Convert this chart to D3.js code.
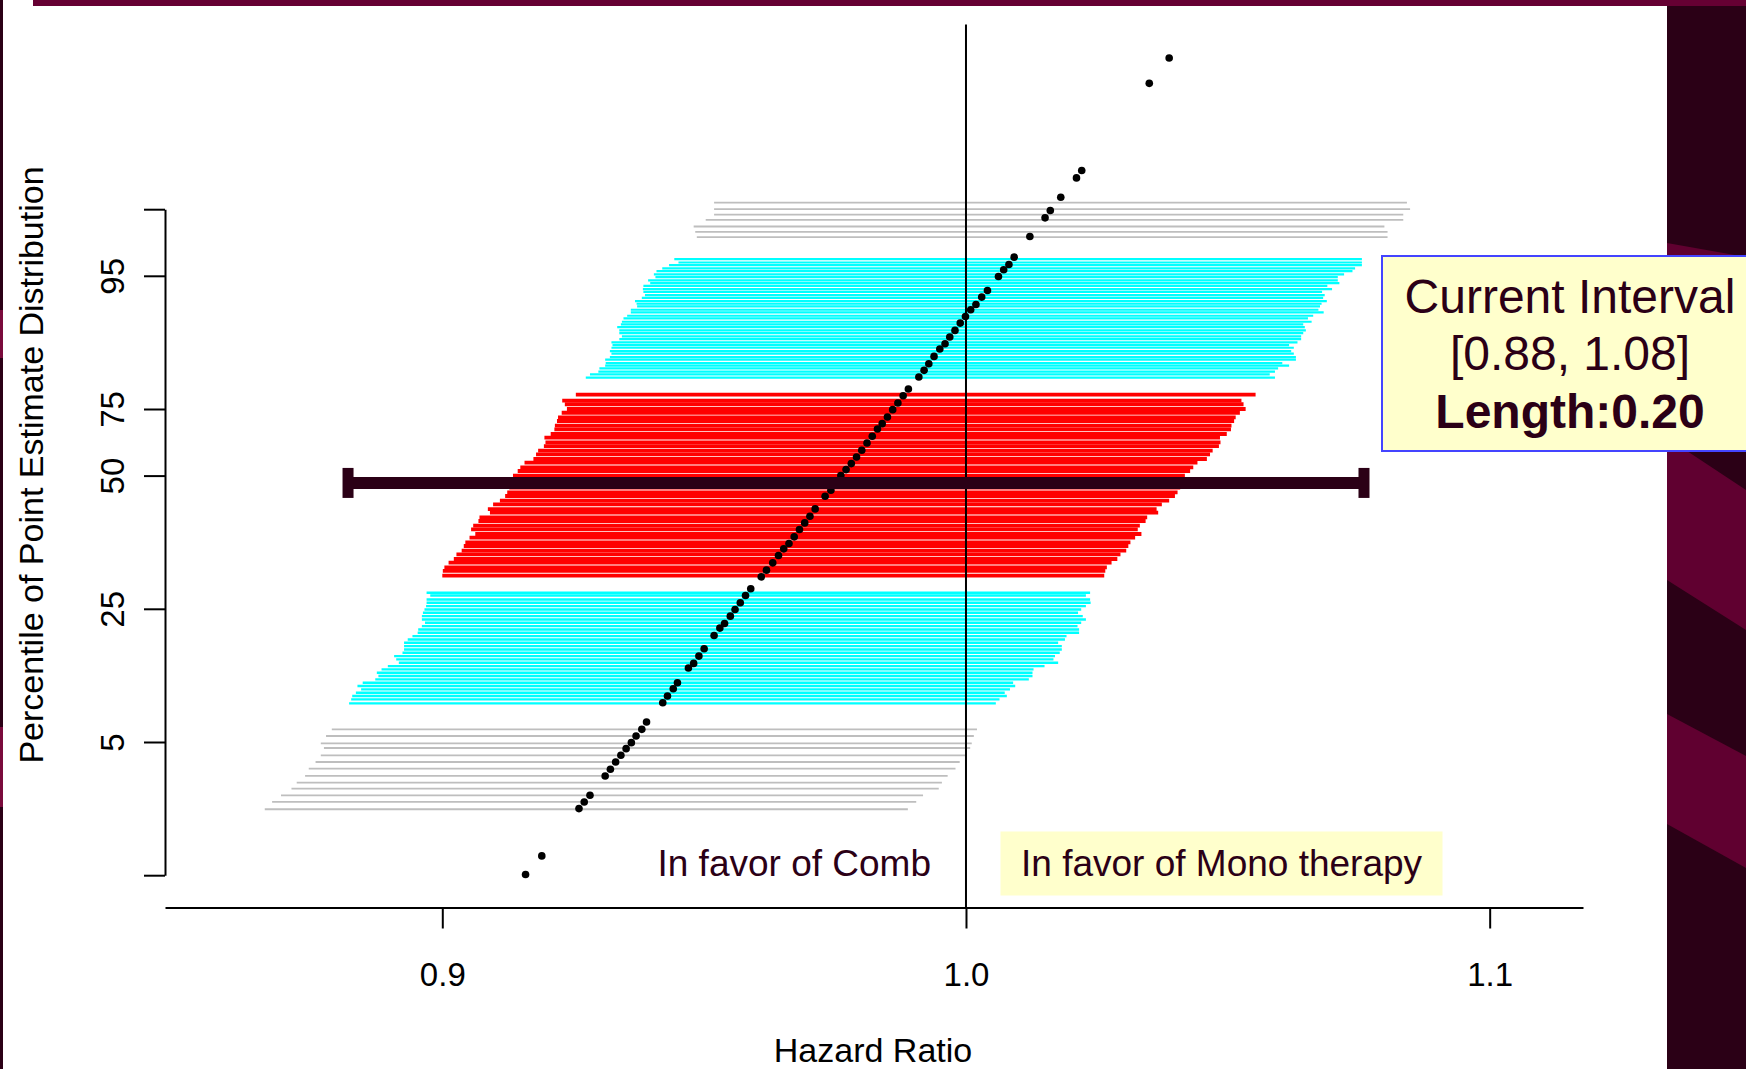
<!DOCTYPE html>
<html>
<head>
<meta charset="utf-8">
<script src="https://cdn.jsdelivr.net/npm/d3@7"></script>
<style>
  body { margin: 0; background: #fff; }
  svg { display: block; }
  text { font-family: "Liberation Sans", Arial, Helvetica, sans-serif; }
</style>
</head>
<body>
<div id="canvas"></div>
<script>
// y axis: positions of the ticks and what is written on them
var yTickPos = [0, 20, 40, 60, 70, 90, 100];
var yTickLab = ["", "5", "25", "50", "75", "95", ""];
var xTicks = [0.9, 1.0, 1.1];

// grey lines, lower tail
var greyLowY  = [21.9, 20.9, 19.8, 19.1, 18.0, 17.0, 16.0, 14.9, 13.9, 13.0, 12.0, 11.0, 9.9];
var greyLowLo = [0.8789, 0.8778, 0.8768, 0.8774, 0.8768, 0.8758, 0.8745, 0.8738, 0.8722, 0.8712, 0.8692, 0.8675, 0.8661];
var greyLowHi = [1.0021, 1.0015, 1.0011, 1.0008, 0.9999, 0.9988, 0.9980, 0.9965, 0.9954, 0.9948, 0.9918, 0.9905, 0.9889];

// cyan lines, 5th to 25th percentile
var cyanLowY  = [42.4, 42.0, 41.4, 40.9, 40.4, 39.9, 39.4, 38.9, 38.4, 37.9, 37.4, 36.9, 36.4, 35.9, 35.4, 34.9, 34.4,
                 33.9, 33.4, 32.9, 32.4, 31.9, 31.4, 30.9, 30.4, 29.9, 29.4, 28.9, 28.4, 27.9, 27.4, 26.9, 26.4, 25.8];
var cyanLowLo = [0.8970, 0.8977, 0.8970, 0.8970, 0.8969, 0.8966, 0.8963, 0.8961, 0.8961, 0.8967, 0.8961, 0.8954, 0.8953,
                 0.8943, 0.8934, 0.8927, 0.8927, 0.8927, 0.8924, 0.8908, 0.8912, 0.8917, 0.8896, 0.8884, 0.8875, 0.8878,
                 0.8872, 0.8848, 0.8838, 0.8845, 0.8835, 0.8828, 0.8826, 0.8822];
var cyanLowHi = [1.0237, 1.0229, 1.0237, 1.0238, 1.0229, 1.0220, 1.0214, 1.0223, 1.0229, 1.0220, 1.0213, 1.0216, 1.0216,
                 1.0192, 1.0189, 1.0176, 1.0183, 1.0183, 1.0179, 1.0170, 1.0167, 1.0176, 1.0150, 1.0129, 1.0127, 1.0127,
                 1.0120, 1.0090, 1.0094, 1.0084, 1.0074, 1.0078, 1.0064, 1.0057];

// red lines, 25th to 75th percentile
var redY  = [72.16, 71.26, 70.71, 70.00, 69.44, 68.75, 68.20, 67.51, 66.95, 66.25, 65.69, 65.00, 64.44, 63.75, 63.20,
             62.49, 61.94, 61.25, 60.69, 60.00, 59.44, 58.74, 58.18, 57.49, 56.94, 56.25, 55.69, 54.98, 54.43, 53.74,
             53.18, 52.49, 51.94, 51.23, 50.68, 49.98, 49.43, 48.74, 48.18, 47.48, 46.92, 46.23, 45.68, 44.97];
var redLo = [0.9255, 0.9229, 0.9234, 0.9238, 0.9228, 0.9221, 0.9219, 0.9215, 0.9214, 0.9207, 0.9195, 0.9197, 0.9194,
             0.9183, 0.9179, 0.9174, 0.9157, 0.9149, 0.9144, 0.9135, 0.9130, 0.9130, 0.9128, 0.9124, 0.9120, 0.9110,
             0.9097, 0.9087, 0.9091, 0.9071, 0.9069, 0.9059, 0.9055, 0.9063, 0.9052, 0.9044, 0.9041, 0.9037, 0.9027,
             0.9022, 0.9012, 0.9004, 0.9001, 0.9000];
var redHi = [1.0553, 1.0526, 1.0530, 1.0534, 1.0523, 1.0515, 1.0512, 1.0507, 1.0506, 1.0498, 1.0485, 1.0486, 1.0483,
             1.0471, 1.0466, 1.0460, 1.0442, 1.0434, 1.0428, 1.0418, 1.0412, 1.0411, 1.0409, 1.0404, 1.0399, 1.0388,
             1.0374, 1.0364, 1.0367, 1.0346, 1.0343, 1.0332, 1.0328, 1.0335, 1.0323, 1.0314, 1.0310, 1.0306, 1.0295,
             1.0289, 1.0278, 1.0269, 1.0266, 1.0264];

// cyan lines, 75th to 95th percentile
var cyanUpY  = [92.5, 92.0, 91.6, 91.1, 90.7, 90.2, 89.8, 89.3, 88.9, 88.5, 88.0, 87.6, 87.1, 86.7, 86.2, 85.8, 85.4,
                84.9, 84.5, 84.0, 83.6, 83.1, 82.7, 82.3, 81.8, 81.4, 80.9, 80.5, 80.0, 79.6, 79.2, 78.7, 78.3, 77.8,
                77.4, 76.9, 76.5, 76.1, 75.6, 75.2, 74.7];
var cyanUpLo = [0.9443, 0.9451, 0.9433, 0.9420, 0.9409, 0.9404, 0.9407, 0.9393, 0.9397, 0.9384, 0.9383, 0.9384, 0.9387,
                0.9381, 0.9368, 0.9371, 0.9372, 0.9360, 0.9360, 0.9353, 0.9346, 0.9343, 0.9341, 0.9334, 0.9338, 0.9338,
                0.9343, 0.9338, 0.9323, 0.9325, 0.9323, 0.9320, 0.9323, 0.9320, 0.9311, 0.9312, 0.9311, 0.9300, 0.9298,
                0.9282, 0.9274];
var cyanUpHi = [1.0756, 1.0756, 1.0756, 1.0743, 1.0738, 1.0722, 1.0710, 1.0710, 1.0713, 1.0690, 1.0699, 1.0680, 1.0685,
                1.0682, 1.0689, 1.0679, 1.0676, 1.0673, 1.0683, 1.0663, 1.0653, 1.0660, 1.0644, 1.0647, 1.0649, 1.0644,
                1.0640, 1.0640, 1.0633, 1.0617, 1.0626, 1.0621, 1.0626, 1.0630, 1.0630, 1.0604, 1.0617, 1.0596, 1.0590,
                1.0580, 1.0590];

// grey lines, upper tail
var greyUpY  = [101.0, 100.0, 99.2, 98.4, 97.4, 96.6, 95.8];
var greyUpLo = [0.9519, 0.9519, 0.9519, 0.9503, 0.9480, 0.9483, 0.9486];
var greyUpHi = [1.0842, 1.0848, 1.0835, 1.0835, 1.0799, 1.0805, 1.0805];

// point estimates
var dotX = [0.9159, 0.9190, 0.9261, 0.9271, 0.9282, 0.9311, 0.9321, 0.9331, 0.9341, 0.9351, 0.9361, 0.9370, 0.9381,
            0.9390, 0.9421, 0.9430, 0.9441, 0.9449, 0.9470, 0.9480, 0.9490, 0.9500, 0.9519, 0.9530, 0.9539, 0.9550,
            0.9559, 0.9569, 0.9579, 0.9589, 0.9609, 0.9619, 0.9631, 0.9642, 0.9652, 0.9662, 0.9672, 0.9682, 0.9692,
            0.9702, 0.9712, 0.9731, 0.9742, 0.9761, 0.9771, 0.9781, 0.9791, 0.9801, 0.9811, 0.9821, 0.9831, 0.9840,
            0.9850, 0.9860, 0.9870, 0.9880, 0.9890, 0.9910, 0.9920, 0.9929, 0.9939, 0.9950, 0.9960, 0.9969, 0.9979,
            0.9989, 0.9999, 1.0009, 1.0019, 1.0030, 1.0041, 1.0062, 1.0072, 1.0082, 1.0092, 1.0122, 1.0151, 1.0161,
            1.0181, 1.0211, 1.0221, 1.0350, 1.0388];
var dotY = [0.1, 2.9, 10.0, 11.0, 12.0, 14.9, 15.9, 17.0, 18.0, 19.0, 19.9, 20.9, 21.9,
            23.0, 25.9, 26.9, 28.0, 28.9, 31.1, 31.8, 32.9, 34.0, 36.0, 37.1, 37.8, 38.9,
            39.9, 40.9, 42.0, 43.0, 44.8, 45.8, 46.9, 48.0, 49.0, 49.8, 50.8, 51.9, 52.9,
            53.9, 55.0, 56.9, 57.8, 60.0, 60.9, 61.8, 62.8, 63.8, 64.9, 65.9, 67.0, 67.8,
            68.8, 69.9, 70.9, 72.0, 73.0, 74.8, 75.8, 76.8, 77.9, 79.0, 79.8, 80.8, 81.8,
            82.9, 83.9, 84.9, 85.7, 86.8, 87.8, 89.9, 90.9, 91.7, 92.8, 95.9, 98.7, 99.8,
            101.8, 104.7, 105.8, 118.9, 122.7];

// current interval
var intervalLo = 0.882, intervalHi = 1.076, intervalAt = 58.9;
var boxLines = ["Current Interval", "[0.88, 1.08]", "Length:0.20"];

var width = 1746, height = 1069;
var ink = "#2b0016";

var svg = d3.select("#canvas").append("svg")
  .attr("width", width)
  .attr("height", height);

// slide background pieces around the plot
svg.append("rect").attr("x", 1667).attr("y", 0).attr("width", 79).attr("height", height).attr("fill", ink);
var stripes = [
  [[1667, 243], [1746, 257], [1746, 440], [1700, 440], [1687, 451], [1746, 490], [1746, 630], [1667, 580]],
  [[1667, 714], [1746, 756], [1746, 868], [1667, 824]]
];
svg.selectAll("polygon.stripe").data(stripes).enter().append("polygon")
  .attr("class", "stripe")
  .attr("points", function (d) { return d.map(function (p) { return p.join(","); }).join(" "); })
  .attr("fill", "#600030");
svg.append("rect").attr("x", 33).attr("y", 0).attr("width", width - 33).attr("height", 6).attr("fill", "#660033");
svg.append("rect").attr("x", 0).attr("y", 0).attr("width", 3).attr("height", height).attr("fill", ink);
svg.append("rect").attr("x", 0).attr("y", 310).attr("width", 3).attr("height", 48).attr("fill", "#7a0a3c");
svg.append("rect").attr("x", 0).attr("y", 727).attr("width", 3).attr("height", 80).attr("fill", "#7a0a3c");

// scales
var x = d3.scaleLinear().domain([0.84705, 1.11782]).range([165, 1583]);
var y = d3.scaleLinear().domain([0, 100]).range([875.2, 209.2]);

function band(ys, lo, hi, color, w) {
  svg.append("g").selectAll("line")
    .data(ys)
    .enter()
    .append("line")
    .attr("x1", function (d, i) { return x(lo[i]); })
    .attr("x2", function (d, i) { return x(hi[i]); })
    .attr("y1", function (d) { return y(d); })
    .attr("y2", function (d) { return y(d); })
    .attr("stroke", color)
    .attr("stroke-width", w);
}

band(greyLowY, greyLowLo, greyLowHi, "#bebebe", 1.8);
band(cyanLowY, cyanLowLo, cyanLowHi, "#00ffff", 2.4);
band(redY, redLo, redHi, "#ff0000", 3.8);
band(cyanUpY, cyanUpLo, cyanUpHi, "#00ffff", 2.2);
band(greyUpY, greyUpLo, greyUpHi, "#bebebe", 1.8);

// reference line at HR = 1
svg.append("line")
  .attr("x1", x(1)).attr("x2", x(1))
  .attr("y1", 24.5).attr("y2", 907.5)
  .attr("stroke", "#000").attr("stroke-width", 2);

// point estimates
svg.append("g").selectAll("circle")
  .data(dotX)
  .enter()
  .append("circle")
  .attr("cx", function (d) { return x(d); })
  .attr("cy", function (d, i) { return y(dotY[i]); })
  .attr("r", 3.8)
  .attr("fill", "#000");

// current interval bar
var bar = svg.append("g").attr("fill", ink);
bar.append("line")
  .attr("x1", x(intervalLo)).attr("x2", x(intervalHi))
  .attr("y1", y(intervalAt)).attr("y2", y(intervalAt))
  .attr("stroke", ink).attr("stroke-width", 12);
bar.selectAll("rect").data([intervalLo, intervalHi]).enter().append("rect")
  .attr("x", function (d) { return x(d) - 5.5; })
  .attr("y", y(intervalAt) - 15)
  .attr("width", 11)
  .attr("height", 30);

// axes
var xAxis = d3.axisBottom(x)
  .tickValues(xTicks)
  .tickFormat(d3.format(".1f"))
  .tickSize(21)
  .tickSizeOuter(0)
  .tickPadding(34);
var gx = svg.append("g")
  .attr("transform", "translate(0,907.5)")
  .call(xAxis);
gx.attr("font-size", 33).attr("font-family", null);
gx.selectAll("path, line").attr("stroke", "#000").attr("stroke-width", 2);
gx.selectAll("text").attr("fill", "#000");

var yAxis = d3.axisLeft(y)
  .tickValues(yTickPos)
  .tickFormat(function (d, i) { return yTickLab[i]; })
  .tickSize(21)
  .tickSizeOuter(0);
var gy = svg.append("g")
  .attr("transform", "translate(165,0)")
  .call(yAxis);
gy.attr("font-size", 33).attr("font-family", null);
gy.selectAll("path, line").attr("stroke", "#000").attr("stroke-width", 2);
gy.selectAll("text")
  .attr("x", null)
  .attr("dy", null)
  .attr("fill", "#000")
  .attr("text-anchor", "middle")
  .attr("transform", "translate(-41,0) rotate(-90)");

svg.append("text")
  .attr("x", 873).attr("y", 1062)
  .attr("text-anchor", "middle")
  .attr("font-size", 34)
  .text("Hazard Ratio");

svg.append("text")
  .attr("transform", "translate(43,465) rotate(-90)")
  .attr("text-anchor", "middle")
  .attr("font-size", 34)
  .text("Percentile of Point Estimate Distribution");

// direction labels
svg.append("text")
  .attr("x", 931).attr("y", 876)
  .attr("text-anchor", "end")
  .attr("font-size", 37)
  .attr("fill", ink)
  .text("In favor of Comb");
svg.append("rect")
  .attr("x", 1000.5).attr("y", 831.5).attr("width", 442).attr("height", 64)
  .attr("fill", "#ffffcc");
svg.append("text")
  .attr("x", 1021).attr("y", 876)
  .attr("font-size", 37)
  .attr("fill", ink)
  .text("In favor of Mono therapy");

// current interval box
svg.append("rect")
  .attr("x", 1382).attr("y", 256).attr("width", 400).attr("height", 195)
  .attr("fill", "#ffffcc")
  .attr("stroke", "#4444ff")
  .attr("stroke-width", 2);
svg.append("g").selectAll("text")
  .data(boxLines)
  .enter()
  .append("text")
  .attr("x", 1570)
  .attr("y", function (d, i) { return [313, 370, 428][i]; })
  .attr("text-anchor", "middle")
  .attr("font-size", 48)
  .attr("font-weight", function (d, i) { return i === 2 ? "bold" : "normal"; })
  .attr("fill", ink)
  .text(function (d) { return d; });
</script>
</body>
</html>
